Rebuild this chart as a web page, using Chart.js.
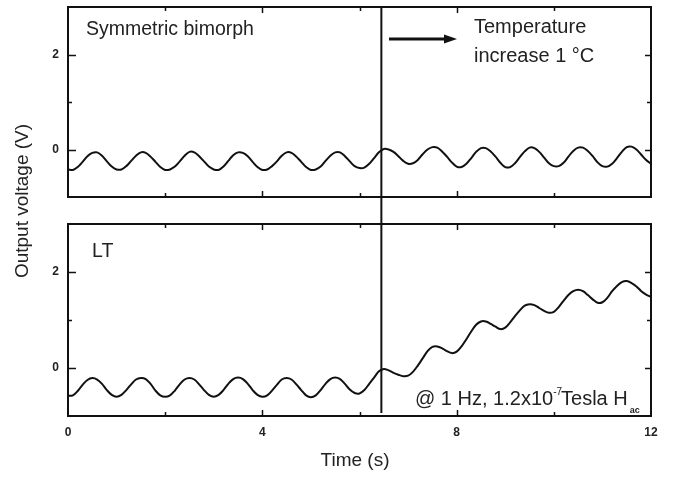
<!DOCTYPE html>
<html><head><meta charset="utf-8">
<script src="https://cdn.jsdelivr.net/npm/chart.js@4.4.1/dist/chart.umd.min.js"></script>
<style>
html,body{margin:0;padding:0;background:#fff;}
#wrap{position:relative;width:674px;height:477px;background:#fff;overflow:hidden;}
canvas{position:absolute;left:0;top:0;}
#c2{pointer-events:none;}
</style></head><body>
<div id="wrap"><canvas id="c1" width="674" height="477"></canvas><canvas id="c2" width="674" height="477"></canvas></div>
<script>
const SAMPLE_STEP = 0.1;
const bimorphVoltage = [
 -0.42,-0.43,-0.37,-0.26,-0.14,-0.07,-0.06,-0.13,-0.25,-0.36,
 -0.42,-0.42,-0.35,-0.24,-0.13,-0.06,-0.07,-0.15,-0.26,-0.37,
 -0.43,-0.42,-0.36,-0.25,-0.13,-0.05,-0.06,-0.14,-0.25,-0.36,
 -0.42,-0.43,-0.36,-0.24,-0.12,-0.06,-0.07,-0.14,-0.26,-0.37,
 -0.43,-0.42,-0.35,-0.25,-0.13,-0.06,-0.07,-0.15,-0.26,-0.37,
 -0.43,-0.42,-0.36,-0.24,-0.13,-0.06,-0.06,-0.14,-0.25,-0.35,
 -0.39,-0.38,-0.30,-0.18,-0.06,0.01,0.00,-0.05,-0.14,-0.24,
 -0.30,-0.29,-0.22,-0.10,0.00,0.05,0.04,-0.04,-0.15,-0.27,
 -0.36,-0.37,-0.30,-0.18,-0.05,0.03,0.03,-0.04,-0.15,-0.28,
 -0.37,-0.37,-0.29,-0.16,-0.04,0.04,0.03,-0.05,-0.17,-0.29,
 -0.35,-0.35,-0.28,-0.15,-0.03,0.04,0.04,-0.03,-0.14,-0.27,
 -0.35,-0.36,-0.30,-0.18,-0.05,0.05,0.06,0.00,-0.11,-0.22,
 -0.30
];
const ltVoltage = [
 -0.58,-0.57,-0.48,-0.35,-0.25,-0.21,-0.24,-0.33,-0.46,-0.56,
 -0.60,-0.56,-0.46,-0.34,-0.24,-0.21,-0.23,-0.33,-0.47,-0.57,
 -0.60,-0.57,-0.47,-0.34,-0.24,-0.21,-0.24,-0.34,-0.46,-0.56,
 -0.60,-0.56,-0.46,-0.33,-0.23,-0.20,-0.23,-0.33,-0.46,-0.56,
 -0.60,-0.57,-0.47,-0.35,-0.24,-0.21,-0.24,-0.34,-0.46,-0.57,
 -0.61,-0.57,-0.46,-0.33,-0.23,-0.20,-0.23,-0.33,-0.45,-0.52,
 -0.53,-0.46,-0.33,-0.20,-0.07,-0.02,-0.05,-0.10,-0.14,-0.17,
 -0.16,-0.08,0.05,0.20,0.35,0.44,0.45,0.41,0.35,0.31,
 0.34,0.45,0.60,0.76,0.90,0.97,0.97,0.92,0.86,0.81,
 0.84,0.95,1.08,1.20,1.30,1.33,1.31,1.25,1.19,1.15,
 1.17,1.27,1.40,1.52,1.60,1.63,1.60,1.52,1.43,1.36,
 1.37,1.46,1.60,1.71,1.79,1.81,1.77,1.70,1.60,1.53,
 1.48
];
const time = bimorphVoltage.map((_, i) => +(i * SAMPLE_STEP).toFixed(2));
const xTickLabels = [0, 4, 8, 12];
const yTickLabels = [0, 2];
const switchTime = 6.45;

const FONT = "'Liberation Sans', Arial, sans-serif";
const INK = '#111';

function pts(arr){ return time.map((t, i) => ({x: t, y: arr[i]})); }

function framePlugin(id){
  return {
    id,
    afterDatasetsDraw(chart){
      const {ctx, chartArea: a, scales: {x, y}} = chart;
      ctx.save();
      ctx.strokeStyle = INK;
      ctx.lineWidth = 2;
      ctx.strokeRect(a.left, a.top, a.right - a.left, a.bottom - a.top);
      ctx.lineWidth = 1.5;
      ctx.beginPath();
      for (let v = 2; v < 12; v += 2){
        const px = Math.round(x.getPixelForValue(v)) + 0.5;
        const len = xTickLabels.includes(v) ? 6 : 4;
        ctx.moveTo(px, a.top); ctx.lineTo(px, a.top + len);
        ctx.moveTo(px, a.bottom); ctx.lineTo(px, a.bottom - len);
      }
      for (let v = 0; v <= 2; v++){
        const py = Math.round(y.getPixelForValue(v)) + 0.5;
        const major = yTickLabels.includes(v);
        ctx.moveTo(a.left, py); ctx.lineTo(a.left + (major ? 8 : 4), py);
        ctx.moveTo(a.right, py); ctx.lineTo(a.right - (major ? 6 : 4), py);
      }
      ctx.stroke();
      ctx.restore();
    }
  };
}

const baseY = {
  type: 'linear', min: -1, max: 3,
  afterFit(s){ s.width = 68; s.paddingTop = 0; s.paddingBottom = 0; },
  grid: {display: false, drawTicks: false, tickLength: 0}, border: {display: false},
  ticks: {
    stepSize: 1, padding: 9, color: '#222',
    font: {family: FONT, size: 12, weight: 'bold'},
    callback: v => yTickLabels.includes(v) ? String(v) : ''
  }
};

function dataset(arr){
  return {data: pts(arr), borderColor: INK, borderWidth: 2, pointRadius: 0, tension: 0.35, fill: false};
}

// ---- top panel: Symmetric bimorph ----
new Chart(document.getElementById('c1'), {
  type: 'line',
  data: {datasets: [dataset(bimorphVoltage)]},
  options: {
    responsive: false, animation: false, devicePixelRatio: 1,
    layout: {padding: {left: 0, right: 23, top: 7, bottom: 0}},
    plugins: {legend: {display: false}, tooltip: {enabled: false}},
    scales: {
      x: {type: 'linear', min: 0, max: 12, afterFit(s){ s.height = 280; s.paddingLeft = 0; s.paddingRight = 0; },
          grid: {display: false, drawTicks: false, tickLength: 0}, border: {display: false}, ticks: {display: false}},
      y: baseY
    }
  },
  plugins: [framePlugin('frameTop'), {
    id: 'topText',
    afterDraw(chart){
      const ctx = chart.ctx;
      ctx.save();
      ctx.fillStyle = '#222';
      ctx.font = `19.5px ${FONT}`;
      ctx.textBaseline = 'alphabetic';
      ctx.fillText('Symmetric bimorph', 86, 35);
      ctx.font = `20px ${FONT}`;
      ctx.fillText('Temperature', 474, 33);
      ctx.fillText('increase 1 \u00B0C', 474, 62);
      // arrow
      ctx.strokeStyle = INK; ctx.fillStyle = INK; ctx.lineWidth = 3;
      ctx.beginPath(); ctx.moveTo(389, 39); ctx.lineTo(446, 39); ctx.stroke();
      ctx.beginPath(); ctx.moveTo(457, 39); ctx.lineTo(444, 34.5); ctx.lineTo(444, 43.5); ctx.closePath(); ctx.fill();
      ctx.restore();
    }
  }]
});

// ---- bottom panel: LT ----
new Chart(document.getElementById('c2'), {
  type: 'line',
  data: {datasets: [dataset(ltVoltage)]},
  options: {
    responsive: false, animation: false, devicePixelRatio: 1,
    layout: {padding: {left: 0, right: 23, top: 224, bottom: 0}},
    plugins: {legend: {display: false}, tooltip: {enabled: false}},
    scales: {
      x: {type: 'linear', min: 0, max: 12, afterFit(s){ s.height = 61; s.paddingLeft = 0; s.paddingRight = 0; },
          grid: {display: false, drawTicks: false, tickLength: 0}, border: {display: false},
          ticks: {stepSize: 2, padding: 9, color: '#222', autoSkip: false, maxRotation: 0,
                  font: {family: FONT, size: 12, weight: 'bold'},
                  callback: v => xTickLabels.includes(v) ? String(v) : ''}},
      y: baseY
    }
  },
  plugins: [framePlugin('frameBottom'), {
    id: 'bottomText',
    afterDraw(chart){
      const {ctx, chartArea: a, scales: {x}} = chart;
      ctx.save();
      // vertical marker spanning both panels
      const px = x.getPixelForValue(switchTime);
      ctx.strokeStyle = INK; ctx.lineWidth = 2;
      ctx.beginPath(); ctx.moveTo(px, 7); ctx.lineTo(px, a.bottom - 3); ctx.stroke();
      ctx.fillStyle = '#222';
      ctx.font = `19.5px ${FONT}`;
      ctx.fillText('LT', 92, 257);
      // annotation
      ctx.font = `20px ${FONT}`;
      let cx = 415;
      const s1 = '@ 1 Hz, 1.2x10';
      ctx.fillText(s1, cx, 405); cx += ctx.measureText(s1).width;
      ctx.font = `10px ${FONT}`;
      ctx.fillText('-7', cx, 395); cx += ctx.measureText('-7').width - 1;
      ctx.font = `20px ${FONT}`;
      ctx.fillText('Tesla H', cx, 405); cx += ctx.measureText('Tesla H').width + 2;
      ctx.font = `bold 9px ${FONT}`;
      ctx.fillText('ac', cx, 413);
      // axis titles
      ctx.font = `19px ${FONT}`;
      ctx.textAlign = 'center';
      ctx.textBaseline = 'middle';
      ctx.fillText('Time (s)', 355, 461);
      ctx.translate(23, 201);
      ctx.rotate(-Math.PI / 2);
      ctx.fillText('Output voltage (V)', 0, 0);
      ctx.restore();
    }
  }]
});
</script>
</body></html>
